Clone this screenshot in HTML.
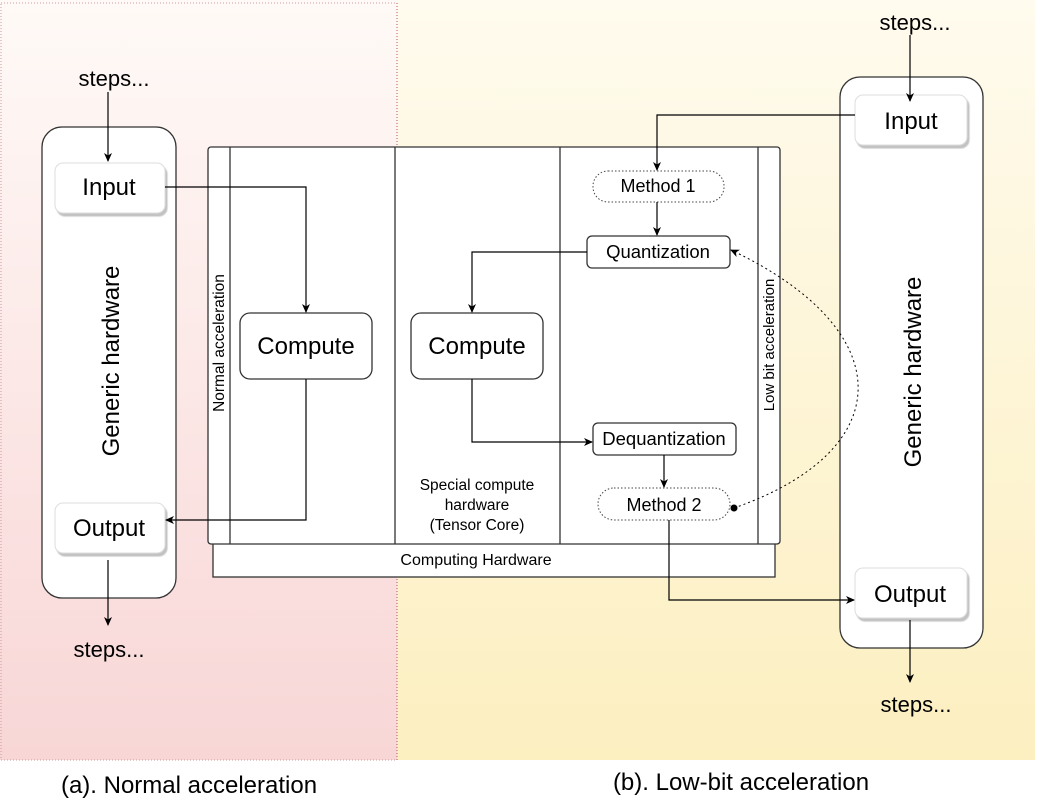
<!DOCTYPE html>
<html><head><meta charset="utf-8"><style>
html,body{margin:0;padding:0;background:#fff}
svg{display:block;font-family:"Liberation Sans",Arial,sans-serif}
</style></head><body>
<svg width="1038" height="807" viewBox="0 0 1038 807" xmlns="http://www.w3.org/2000/svg">
<defs>
<linearGradient id="gl" x1="0" y1="0" x2="0" y2="1"><stop offset="0" stop-color="#fffaf7"/><stop offset="1" stop-color="#f8d6d6"/></linearGradient>
<linearGradient id="gr" x1="0" y1="0" x2="0" y2="1"><stop offset="0" stop-color="#fffbee"/><stop offset="1" stop-color="#fcefc0"/></linearGradient>
<marker id="a" markerWidth="10" markerHeight="10" refX="8" refY="5" orient="auto" markerUnits="userSpaceOnUse"><path d="M0,1 L9,5 L0,9 L2.5,5 Z" fill="#000"/></marker>
<filter id="sh" x="-10%" y="-10%" width="130%" height="140%"><feDropShadow dx="2" dy="3" stdDeviation="0.5" flood-color="#999" flood-opacity="0.6"/></filter>
</defs>
<rect x="0" y="0" width="397" height="760" fill="url(#gl)"/>
<rect x="397" y="0" width="638" height="760" fill="url(#gr)"/>
<rect x="1" y="3" width="396" height="757" fill="none" stroke="#c99" stroke-dasharray="1,2"/>
<line x1="397" y1="3" x2="397" y2="760" stroke="#b55" stroke-dasharray="1,2"/>

<g stroke="#333" stroke-width="1.3" fill="#fff">
<rect x="42" y="127" width="134" height="471" rx="20"/>
<rect x="840" y="77" width="143" height="571" rx="20"/>
<rect x="213" y="540" width="562" height="37" fill="#fff"/>
<rect x="208" y="147" width="572" height="397" rx="3"/>
<line x1="230" y1="147" x2="230" y2="544"/>
<line x1="395" y1="147" x2="395" y2="544"/>
<line x1="560" y1="147" x2="560" y2="544"/>
<line x1="758" y1="147" x2="758" y2="544"/>
<rect x="240" y="313" width="132" height="66" rx="10"/>
<rect x="411" y="313" width="132" height="66" rx="10"/>
<rect x="587" y="236" width="143" height="32" rx="5"/>
<rect x="593" y="423" width="143" height="32" rx="5"/>
</g>
<g stroke="#444" stroke-width="1" fill="#fff" stroke-dasharray="1.5,2">
<rect x="593" y="171" width="131" height="31" rx="15"/>
<rect x="598" y="488" width="132" height="32" rx="16"/>
</g>
<g fill="#fff" stroke="#ddd" filter="url(#sh)">
<rect x="55" y="163" width="110" height="50" rx="8"/>
<rect x="55" y="503" width="110" height="50" rx="8"/>
<rect x="855" y="95" width="112" height="50" rx="8"/>
<rect x="855" y="568" width="112" height="50" rx="8"/>
</g>

<g stroke="#000" stroke-width="1.2" fill="none" marker-end="url(#a)">
<path d="M108,92 V161"/>
<path d="M165,187 H306 V312"/>
<path d="M306,379 V520 H166"/>
<path d="M108,560 V625"/>
<path d="M910,35 V101"/>
<path d="M855,115 H657 V170"/>
<path d="M657,202 V235"/>
<path d="M587,252 H472 V312"/>
<path d="M472,379 V442 H592"/>
<path d="M664,455 V487"/>
<path d="M669,520 V600 H854"/>
<path d="M910,620 V682"/>
</g>
<path d="M734,508 C900,450 900,330 731,250" stroke="#000" stroke-width="1" fill="none" stroke-dasharray="2,3" marker-end="url(#a)"/>
<circle cx="734" cy="508" r="3.5" fill="#000"/>

<g fill="#000" text-anchor="middle">
<text x="114" y="86" font-size="22">steps...</text>
<text x="109" y="195" font-size="24">Input</text>
<text x="109" y="536" font-size="24">Output</text>
<text x="109" y="657" font-size="22">steps...</text>
<text x="915" y="30" font-size="22">steps...</text>
<text x="911" y="129" font-size="24">Input</text>
<text x="910" y="602" font-size="24">Output</text>
<text x="916" y="712" font-size="22">steps...</text>
<text x="306" y="354" font-size="24">Compute</text>
<text x="477" y="354" font-size="24">Compute</text>
<text x="658" y="192" font-size="18">Method 1</text>
<text x="658" y="258" font-size="18.5">Quantization</text>
<text x="664" y="445" font-size="18.5">Dequantization</text>
<text x="664" y="511" font-size="18">Method 2</text>
<text x="477" y="490" font-size="15.5">Special compute</text>
<text x="477" y="510" font-size="15.5">hardware</text>
<text x="477" y="530" font-size="15.5">(Tensor Core)</text>
<text x="476" y="565" font-size="16">Computing Hardware</text>
<text x="189" y="793" font-size="24">(a). Normal acceleration</text>
<text x="741" y="790" font-size="24">(b). Low-bit acceleration</text>
<text transform="translate(119,361) rotate(-90)" font-size="24">Generic hardware</text>
<text transform="translate(921,372) rotate(-90)" font-size="24">Generic hardware</text>
<text transform="translate(224,343) rotate(-90)" font-size="15.5">Normal acceleration</text>
<text transform="translate(774,345) rotate(-90)" font-size="15">Low bit acceleration</text>
</g>
</svg>
</body></html>
